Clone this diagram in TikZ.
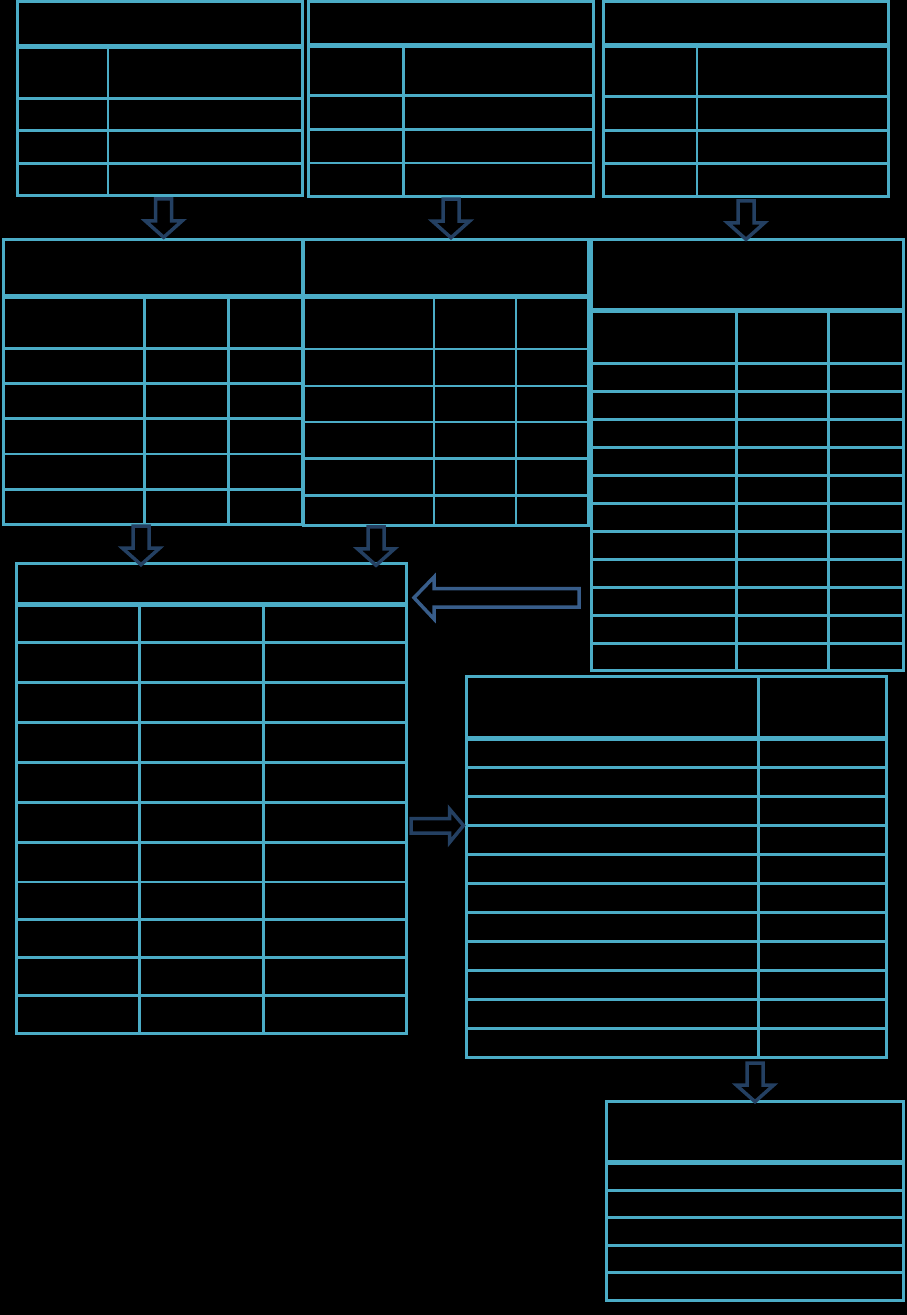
\documentclass[tikz,border=0pt]{standalone}
\usetikzlibrary{fit}
\definecolor{gridc}{RGB}{75,172,198}
\definecolor{navy}{RGB}{36,64,98}
\definecolor{steel}{RGB}{56,93,138}
\begin{document}
\begin{tikzpicture}[x=1pt,y=-1pt,
  tbl/.style={draw=gridc,line width=3pt,inner sep=0pt,outer sep=0pt},
  gl/.style={draw=gridc,line width=2.8pt},
  hdr/.style={draw=gridc,line width=5pt},
  arrowline/.style={line width=3.5pt,line join=miter},
  downarr/.pic={\draw[arrowline,draw=navy] (-8,0) -- (-8,22) -- (-18.5,22) -- (0,38.5) -- (18.5,22) -- (8,22) -- (8,0) -- cycle;}
]
\fill[black] (0,0) rectangle (907,1315);
\useasboundingbox (0,0) rectangle (907,1315);

% Table A
\node[tbl, fit={(17.3,1.5) (302,195.3)}] (A) {};
\draw[hdr] (17.3,46) -- (302,46);
\draw[gl] (108,46) -- (108,195.3);
\foreach \r in {98.3,130.3,163.3} \draw[gl] (17.3,\r) -- (302,\r);

% Table B
\node[tbl, fit={(308.5,1.5) (593.5,196)}] (B) {};
\draw[hdr] (308.5,45) -- (593.5,45);
\draw[gl] (403.5,45) -- (403.5,196);
\foreach \r in {95.7,129.3,163} \draw[gl] (308.5,\r) -- (593.5,\r);

% Table C
\node[tbl, fit={(603.4,1.5) (888.3,196.3)}] (C) {};
\draw[hdr] (603.4,45.3) -- (888.3,45.3);
\draw[gl] (697,45.3) -- (697,196.3);
\foreach \r in {96.7,130.3,163.7} \draw[gl] (603.4,\r) -- (888.3,\r);

% Table D
\node[tbl, fit={(3.3,239.3) (302.3,524.3)}] (D) {};
\draw[hdr] (3.3,296.7) -- (302.3,296.7);
\foreach \c in {144.3,228.7} \draw[gl] (\c,296.7) -- (\c,524.3);
\foreach \r in {348.3,383.3,418.7,454,489.3} \draw[gl] (3.3,\r) -- (302.3,\r);

% Table E
\node[tbl, fit={(303.5,239.3) (588,525.3)}] (E) {};
\draw[hdr] (303.5,296.7) -- (588,296.7);
\foreach \c in {434,516} \draw[gl] (\c,296.7) -- (\c,525.3);
\foreach \r in {349,386,422,458.3,495.7} \draw[gl] (303.5,\r) -- (588,\r);

% Table F
\node[tbl, fit={(591.7,239.3) (903.3,670.7)}] (F) {};
\draw[hdr] (591.7,310.5) -- (903.3,310.5);
\foreach \c in {736.5,828.3} \draw[gl] (\c,310.5) -- (\c,670.7);
\foreach \k in {0,...,10} \draw[gl] (591.7,363.3+28*\k) -- (903.3,363.3+28*\k);

% Table G
\node[tbl, fit={(16,563.3) (406.7,1033.3)}] (G) {};
\draw[hdr] (16,604.3) -- (406.7,604.3);
\foreach \c in {139.3,263.3} \draw[gl] (\c,604.3) -- (\c,1033.3);
\foreach \r in {642.3,682.7,722.3,762.3,802.3,842.3,882,919.3,957.3,995.3} \draw[gl] (16,\r) -- (406.7,\r);

% Table H
\node[tbl, fit={(466.7,676.7) (886.7,1057.3)}] (H) {};
\draw[hdr] (466.7,738.7) -- (886.7,738.7);
\draw[gl] (758.3,676.7) -- (758.3,1057.3);
\foreach \k in {0,...,9} \draw[gl] (466.7,767.3+29*\k) -- (886.7,767.3+29*\k);

% Table I
\node[tbl, fit={(606,1101.7) (903.3,1300)}] (I) {};
\draw[hdr] (606,1162.3) -- (903.3,1162.3);
\foreach \r in {1190.3,1217.3,1245.3,1272.3} \draw[gl] (606,\r) -- (903.3,\r);

% Down arrows
\pic at (163.7,198.8) {downarr};
\pic at (451,199.2) {downarr};
\pic at (746,200.8) {downarr};
\pic at (141,526.2) {downarr};
\pic at (376,526.8) {downarr};
\pic at (755,1063.2) {downarr};

% Left arrow (F -> G)
\draw[arrowline,draw=steel] (579,588.5) -- (434,588.5) -- (434,577) -- (414,597.7) -- (434,619) -- (434,607) -- (579,607) -- cycle;

% Right arrow (G -> H)
\draw[arrowline,draw=navy] (411,818.5) -- (449.5,818.5) -- (449.5,809) -- (463.5,825.5) -- (449.5,842.5) -- (449.5,833) -- (411,833) -- cycle;
\end{tikzpicture}
\end{document}
